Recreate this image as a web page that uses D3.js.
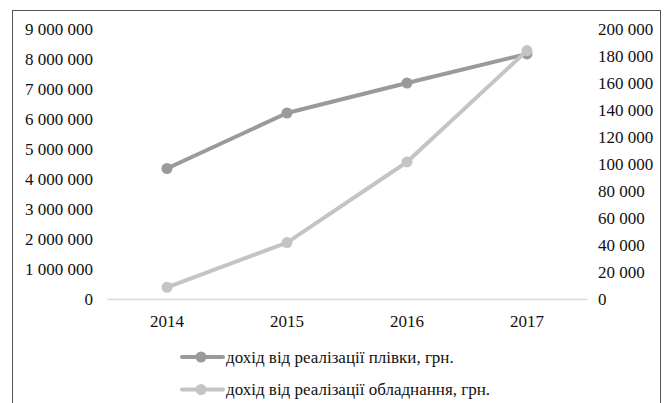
<!DOCTYPE html>
<html>
<head>
<meta charset="utf-8">
<script src="https://cdn.jsdelivr.net/npm/d3@7"></script>
</head>
<body style="margin:0;background:#fff">
<svg id="chart" width="665" height="403" style="display:block"></svg>
<script>
// Years on the category axis
const years = ["2014", "2015", "2016", "2017"];
// Film sales revenue, UAH (left axis)
const filmRevenue = [4350000, 6200000, 7200000, 8170000];
// Equipment sales revenue, UAH (right axis)
const equipmentRevenue = [8700, 41800, 101500, 184000];
// Axis ticks
const leftTicks = [0, 1000000, 2000000, 3000000, 4000000, 5000000, 6000000, 7000000, 8000000, 9000000];
const rightTicks = [0, 20000, 40000, 60000, 80000, 100000, 120000, 140000, 160000, 180000, 200000];
// Legend labels
const seriesNames = ["дохід від реалізації плівки, грн.", "дохід від реалізації обладнання, грн."];
const seriesColors = ["#9a9a9a", "#c4c4c4"];

const FONT = "Liberation Serif";
const svg = d3.select("#chart");

// Outer frame
svg.append("rect")
  .attr("x", 12.5).attr("y", 10.5)
  .attr("width", 648).attr("height", 420)
  .attr("fill", "none").attr("stroke", "#555").attr("stroke-width", 1);

const plot = { left: 107, right: 587, top: 29, bottom: 299 };

const x = d3.scaleBand().domain(years).range([plot.left, plot.right]);
const yL = d3.scaleLinear().domain([0, 9000000]).range([plot.bottom, plot.top]);
const yR = d3.scaleLinear().domain([0, 200000]).range([plot.bottom, plot.top]);

// Space as thousands separator
const fmt = v => d3.format(",")(v).replace(/,/g, " ");

function styleAxis(g) {
  g.attr("font-family", FONT).attr("font-size", 17);
  g.selectAll("text").attr("fill", "#111").attr("font-family", FONT).attr("font-size", 17);
}

// Left axis labels
const leftAxis = svg.append("g")
  .attr("transform", `translate(${plot.left - 14},0)`)
  .call(d3.axisLeft(yL).tickValues(leftTicks).tickFormat(fmt).tickSize(0).tickPadding(0));
leftAxis.select(".domain").remove();
styleAxis(leftAxis);

// Right axis labels
const rightAxis = svg.append("g")
  .attr("transform", `translate(${plot.right + 11},0)`)
  .call(d3.axisRight(yR).tickValues(rightTicks).tickFormat(fmt).tickSize(0).tickPadding(0));
rightAxis.select(".domain").remove();
styleAxis(rightAxis);

// Category axis
const bottomAxis = svg.append("g")
  .attr("transform", `translate(0,${plot.bottom})`)
  .call(d3.axisBottom(x).tickSize(0).tickPadding(16));
bottomAxis.select(".domain").attr("stroke", "#d9d9d9").attr("stroke-width", 1.5);
styleAxis(bottomAxis);

const cx = d => x(d) + x.bandwidth() / 2;

function drawSeries(values, yScale, color) {
  const pts = years.map((yr, i) => [cx(yr), yScale(values[i])]);
  svg.append("path")
    .attr("d", d3.line()(pts))
    .attr("fill", "none").attr("stroke", color)
    .attr("stroke-width", 4).attr("stroke-linejoin", "round").attr("stroke-linecap", "round");
  svg.append("g").selectAll("circle").data(pts).join("circle")
    .attr("cx", d => d[0]).attr("cy", d => d[1]).attr("r", 5.5)
    .attr("fill", color);
}

drawSeries(filmRevenue, yL, seriesColors[0]);
drawSeries(equipmentRevenue, yR, seriesColors[1]);

// Legend
const legend = svg.append("g");
seriesNames.forEach((name, i) => {
  const ly = 357 + i * 32.5;
  legend.append("line")
    .attr("x1", 182).attr("x2", 223).attr("y1", ly).attr("y2", ly)
    .attr("stroke", seriesColors[i]).attr("stroke-width", 4).attr("stroke-linecap", "round");
  legend.append("circle").attr("cx", 201).attr("cy", ly).attr("r", 5.5).attr("fill", seriesColors[i]);
  legend.append("text")
    .attr("x", 226).attr("y", ly).attr("dy", "0.35em")
    .attr("font-family", FONT).attr("font-size", 17).attr("fill", "#111")
    .text(name);
});
</script>
</body>
</html>
